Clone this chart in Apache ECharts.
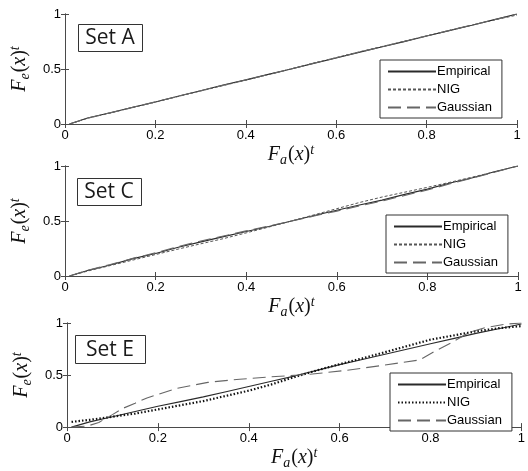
<!DOCTYPE html>
<html>
<head>
<meta charset="utf-8">
<script src="https://cdn.jsdelivr.net/npm/echarts@6/dist/echarts.min.js"></script>
<style>html,body{margin:0;padding:0;background:#fff}#c{width:528px;height:471px}</style>
</head>
<body>
<div id="c"></div>
<script>
// ---- Data ----
const seriesNames = ['Empirical', 'NIG', 'Gaussian'];
const setLabels = ['Set A', 'Set C', 'Set E'];
const xTicks = [0, 0.2, 0.4, 0.6, 0.8, 1];
const yTicks = [0, 0.5, 1];

// Set A
const xA = [0.01, 0.05, 0.1, 0.15, 0.2, 0.25, 0.3, 0.35, 0.4, 0.45, 0.5, 0.55, 0.6, 0.65, 0.7, 0.75, 0.8, 0.85, 0.9, 0.95, 1.0];
const empA = [0.0, 0.055, 0.102, 0.152, 0.2, 0.253, 0.302, 0.355, 0.401, 0.451, 0.5, 0.551, 0.6, 0.651, 0.7, 0.749, 0.8, 0.849, 0.898, 0.949, 1.0];
const nigA = [0.0, 0.052, 0.1, 0.15, 0.199, 0.25, 0.3, 0.349, 0.399, 0.45, 0.501, 0.553, 0.604, 0.655, 0.703, 0.752, 0.801, 0.85, 0.898, 0.946, 0.99];
const gauA = [0.0, 0.054, 0.101, 0.151, 0.201, 0.252, 0.303, 0.352, 0.4, 0.449, 0.5, 0.552, 0.602, 0.652, 0.701, 0.75, 0.8, 0.85, 0.9, 0.948, 1.0];

// Set C
const xC = [0.01, 0.05, 0.1, 0.15, 0.2, 0.25, 0.3, 0.35, 0.4, 0.45, 0.5, 0.55, 0.6, 0.65, 0.7, 0.75, 0.8, 0.85, 0.9, 0.95, 1.0];
const empC = [0.0, 0.05, 0.1, 0.158, 0.205, 0.262, 0.31, 0.358, 0.405, 0.45, 0.5, 0.55, 0.598, 0.645, 0.69, 0.742, 0.79, 0.845, 0.893, 0.95, 1.0];
const nigC = [0.0, 0.045, 0.095, 0.145, 0.195, 0.245, 0.293, 0.34, 0.392, 0.445, 0.5, 0.556, 0.612, 0.668, 0.718, 0.762, 0.806, 0.852, 0.9, 0.948, 1.0];
const gauC = [0.0, 0.052, 0.104, 0.16, 0.212, 0.268, 0.318, 0.364, 0.41, 0.455, 0.5, 0.545, 0.59, 0.637, 0.682, 0.732, 0.782, 0.838, 0.89, 0.945, 1.0];

// Set E
const xE = [0.01, 0.05, 0.1, 0.15, 0.2, 0.25, 0.3, 0.35, 0.4, 0.45, 0.5, 0.55, 0.6, 0.65, 0.7, 0.75, 0.8, 0.85, 0.9, 0.95, 1.0];
const empE = [0.0, 0.05, 0.1, 0.15, 0.2, 0.245, 0.29, 0.34, 0.39, 0.44, 0.49, 0.545, 0.6, 0.65, 0.7, 0.75, 0.8, 0.85, 0.9, 0.945, 0.99];
const nigE = [0.05, 0.07, 0.1, 0.13, 0.17, 0.21, 0.25, 0.3, 0.35, 0.41, 0.48, 0.545, 0.605, 0.66, 0.72, 0.78, 0.84, 0.88, 0.92, 0.95, 0.97];
const xEg = [0.01, 0.045, 0.07, 0.1, 0.123, 0.15, 0.176, 0.24, 0.31, 0.38, 0.44, 0.51, 0.54, 0.615, 0.69, 0.776, 0.81, 0.85, 0.885, 0.92, 0.967, 1.0];
const gauE = [0.0, 0.01, 0.045, 0.12, 0.18, 0.23, 0.28, 0.37, 0.43, 0.46, 0.48, 0.5, 0.51, 0.545, 0.59, 0.645, 0.73, 0.82, 0.91, 0.955, 0.99, 1.0];

const pair = (xs, ys) => xs.map((x, i) => [x, ys[i]]);

// ---- Layout ----
const grids = [
  {left: 61, top: 14, width: 456, height: 110},
  {left: 63, top: 166, width: 455, height: 110},
  {left: 67, top: 323, width: 455, height: 110}
];
const nameGaps = [12, 13, 9];
const legendPos = [
  {left: 380, top: 60},
  {left: 386, top: 215},
  {left: 390, top: 373}
];
const labelBoxes = [
  {x: 78, y: 24, w: 64, h: 27},
  {x: 77, y: 178, w: 64, h: 27},
  {x: 75, y: 335, w: 70, h: 28}
];

const axisColor = '#4a4a4a';
const labelFont = {fontFamily: 'Liberation Sans, Arial', fontSize: 13, color: '#000'};
const nameRich = {
  i: {fontFamily: 'Liberation Serif, DejaVu Serif', fontStyle: 'italic', fontSize: 20, color: '#111', lineHeight: 24, verticalAlign: 'middle'},
  n: {fontFamily: 'Liberation Serif, DejaVu Serif', fontSize: 20, color: '#111', lineHeight: 24, verticalAlign: 'middle'},
  s: {fontFamily: 'Liberation Serif, DejaVu Serif', fontStyle: 'italic', fontSize: 14, color: '#111', lineHeight: 24, verticalAlign: 'bottom', padding: [0, 1, 0, 0]},
  p: {fontFamily: 'Liberation Serif, DejaVu Serif', fontStyle: 'italic', fontSize: 14, color: '#111', lineHeight: 24, verticalAlign: 'top'}
};

const xAxes = [], yAxes = [];
grids.forEach((g, i) => {
  xAxes.push({
    gridIndex: i, type: 'value', min: 0, max: 1, interval: 0.2, position: 'bottom',
    axisLine: {show: true, lineStyle: {color: axisColor, width: 1}},
    axisTick: {show: true, inside: true, length: 4, lineStyle: {color: axisColor}},
    axisLabel: Object.assign({margin: 5}, labelFont),
    splitLine: {show: false},
    name: '{i|F}{s|a}{n|(}{i|x}{n|)}{p|t}', nameLocation: 'middle', nameGap: nameGaps[i],
    nameTextStyle: {rich: nameRich, verticalAlign: 'top'}
  });
  xAxes.push({
    gridIndex: i, type: 'value', min: 0, max: 1, interval: 0.2, position: 'top',
    axisLine: {show: true, lineStyle: {color: axisColor, width: 1}},
    axisTick: {show: true, inside: true, length: 4, lineStyle: {color: axisColor}},
    axisLabel: {show: false}, splitLine: {show: false}
  });
  yAxes.push({
    gridIndex: i, type: 'value', min: 0, max: 1, interval: 0.5, position: 'left',
    axisLine: {show: true, lineStyle: {color: axisColor, width: 1}},
    axisTick: {show: true, inside: true, length: 4, lineStyle: {color: axisColor}},
    axisLabel: Object.assign({margin: 4}, labelFont),
    splitLine: {show: false},
    name: '{i|F}{s|e}{n|(}{i|x}{n|)}{p|t}', nameLocation: 'middle', nameGap: 33, nameRotate: 90,
    nameTextStyle: {rich: nameRich}
  });
  yAxes.push({
    gridIndex: i, type: 'value', min: 0, max: 1, interval: 0.5, position: 'right',
    axisLine: {show: true, lineStyle: {color: axisColor, width: 1}},
    axisTick: {show: true, inside: true, length: 4, lineStyle: {color: axisColor}},
    axisLabel: {show: false}, splitLine: {show: false}
  });
});

const sets = [
  {key: 'A', emp: pair(xA, empA), nig: pair(xA, nigA), gau: pair(xA, gauA)},
  {key: 'C', emp: pair(xC, empC), nig: pair(xC, nigC), gau: pair(xC, gauC)},
  {key: 'E', emp: pair(xE, empE), nig: pair(xE, nigE), gau: pair(xEg, gauE)}
];

const series = [];
sets.forEach((s, i) => {
  const nigStyle = i === 2
    ? {color: '#111', width: 2.2, type: [1.5, 2]}
    : {color: '#555', width: 1, type: [3, 2]};
  series.push({
    name: s.key + '|' + seriesNames[0], type: 'line', xAxisIndex: 2 * i, yAxisIndex: 2 * i,
    data: s.emp, symbol: 'none', silent: true, animation: false,
    lineStyle: {color: '#2a2a2a', width: 1.1, type: 'solid'}, itemStyle: {color: '#2a2a2a'}
  });
  series.push({
    name: s.key + '|' + seriesNames[1], type: 'line', xAxisIndex: 2 * i, yAxisIndex: 2 * i,
    data: s.nig, symbol: 'none', silent: true, animation: false,
    lineStyle: nigStyle, itemStyle: {color: nigStyle.color}
  });
  series.push({
    name: s.key + '|' + seriesNames[2], type: 'line', xAxisIndex: 2 * i, yAxisIndex: 2 * i,
    data: s.gau, symbol: 'none', silent: true, animation: false,
    lineStyle: {color: '#666', width: 1.1, type: [13, 6]}, itemStyle: {color: '#666'}
  });
});

const legends = sets.map((s, i) => ({
  data: seriesNames.map(n => s.key + '|' + n),
  left: legendPos[i].left, top: legendPos[i].top,
  orient: 'vertical', selectedMode: false,
  borderColor: '#333', borderWidth: 1, backgroundColor: '#fff', borderRadius: 0,
  padding: [5, 10, 4, 7], itemGap: 5, itemWidth: 48, itemHeight: 14,
  itemStyle: {color: 'rgba(0,0,0,0)', borderWidth: 0, opacity: 0},
  textStyle: {fontFamily: 'Liberation Sans, Arial', fontSize: 13, color: '#000', padding: [0, 0, 0, -4]},
  formatter: n => n.split('|')[1]
}));

const graphics = [];
labelBoxes.forEach((b, i) => {
  graphics.push({
    type: 'rect', left: b.x, top: b.y, shape: {x: 0, y: 0, width: b.w, height: b.h},
    style: {fill: '#fff', stroke: '#333', lineWidth: 1}, z: 10
  });
  graphics.push({
    type: 'text', x: b.x + b.w / 2, y: b.y + b.h / 2 + 1,
    style: {text: setLabels[i], fontFamily: 'Open Sans, DejaVu Sans', fontSize: 21, fill: '#1a1a1a', align: 'center', verticalAlign: 'middle'}, z: 11
  });
});

const chart = echarts.init(document.getElementById('c'), null, {renderer: 'canvas'});
chart.setOption({
  animation: false,
  backgroundColor: '#fff',
  grid: grids.map(g => Object.assign({containLabel: false}, g)),
  xAxis: xAxes,
  yAxis: yAxes,
  legend: legends,
  graphic: graphics,
  series: series
});
</script>
</body>
</html>
